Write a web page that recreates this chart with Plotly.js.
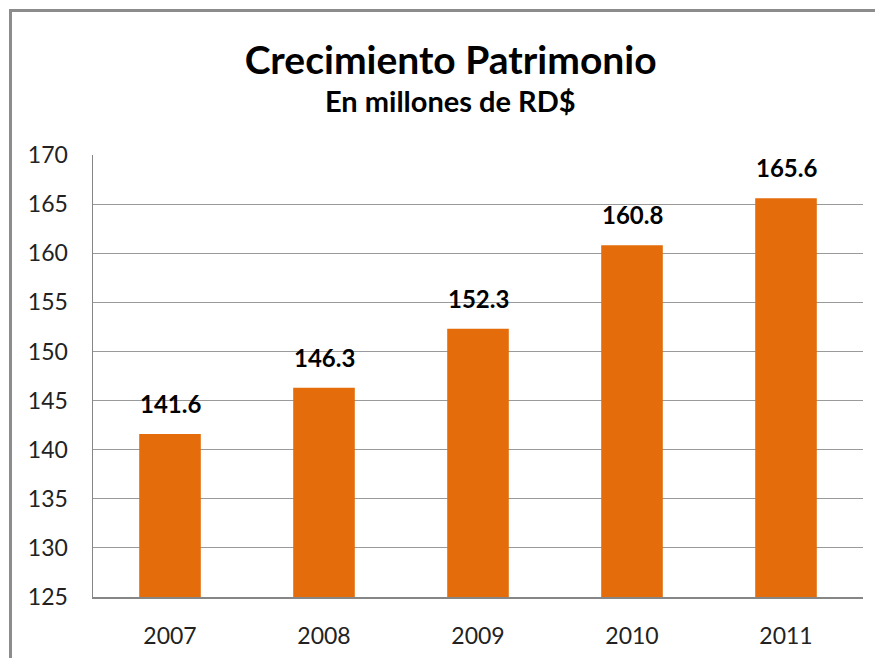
<!DOCTYPE html>
<html>
<head>
<meta charset="utf-8">
<script src="https://cdn.plot.ly/plotly-3.0.1.min.js"></script>
<style>
  body { margin: 0; background: #fff; }
  #wrap { position: relative; width: 875px; height: 658px; }
  #grafico { width: 875px; height: 658px; }
  #marco {
    position: absolute; left: 9px; top: 9px; width: 900px; height: 700px;
    border-left: 3px solid #8c8c8c; border-top: 3px solid #8c8c8c;
    pointer-events: none;
  }
</style>
</head>
<body>
<div id="wrap">
  <div id="grafico"></div>
  <div id="marco"></div>
</div>
<script>
let anios = ["2007", "2008", "2009", "2010", "2011"];
let patrimonio = [141.6, 146.3, 152.3, 160.8, 165.6];
let ticksY = [125, 130, 135, 140, 145, 150, 155, 160, 165, 170];

let fuente = "Lato, 'Open Sans', sans-serif";

let barras = {
    x: anios,
    y: patrimonio,
    type: 'bar',
    marker: { color: '#E46C0A' },
    hoverinfo: 'x+y'
};

// etiquetas de valor encima de cada barra (x = indice de categoria)
let etiquetas = anios.map((a, i) => ({
    x: i,
    y: patrimonio[i],
    xref: 'x',
    yref: 'y',
    text: '<b>' + patrimonio[i].toFixed(1) + '</b>',
    showarrow: false,
    xanchor: 'center',
    yanchor: 'bottom',
    yshift: 14,
    font: { family: fuente, size: 24, color: '#000' }
}));

// subtitulo
etiquetas.push({
    x: 0.464,
    y: 1.124,
    xref: 'paper',
    yref: 'paper',
    text: '<b>En millones de RD$</b>',
    showarrow: false,
    xanchor: 'center',
    yanchor: 'middle',
    font: { family: fuente, size: 29, color: '#000' }
});

let layout = {
    width: 875,
    height: 658,
    margin: { l: 93, r: 12, t: 155, b: 61 },
    paper_bgcolor: '#fff',
    plot_bgcolor: '#fff',
    showlegend: false,
    bargap: 0.6,
    title: {
        text: '<b>Crecimiento Patrimonio</b>',
        x: 0.515,
        xanchor: 'center',
        y: 0.909,
        yanchor: 'middle',
        font: { family: fuente, size: 39, color: '#000' }
    },
    xaxis: {
        type: 'category',
        range: [-0.5, 4.5],
        showline: true,
        linecolor: '#868686',
        linewidth: 1.5,
        ticks: 'outside',
        ticklen: 18,
        tickcolor: 'rgba(0,0,0,0)',
        tickfont: { family: fuente, size: 23, color: '#222' },
        fixedrange: true
    },
    yaxis: {
        range: [125, 170],
        tickvals: ticksY,
        showline: true,
        linecolor: '#868686',
        linewidth: 1.5,
        showgrid: true,
        gridcolor: '#9a9a9a',
        gridwidth: 1.2,
        zeroline: false,
        ticks: 'outside',
        ticklen: 19,
        tickcolor: 'rgba(0,0,0,0)',
        tickfont: { family: fuente, size: 23, color: '#222' },
        fixedrange: true
    },
    annotations: etiquetas
};

Plotly.newPlot('grafico', [barras], layout, { displayModeBar: false, staticPlot: true });
</script>
</body>
</html>
